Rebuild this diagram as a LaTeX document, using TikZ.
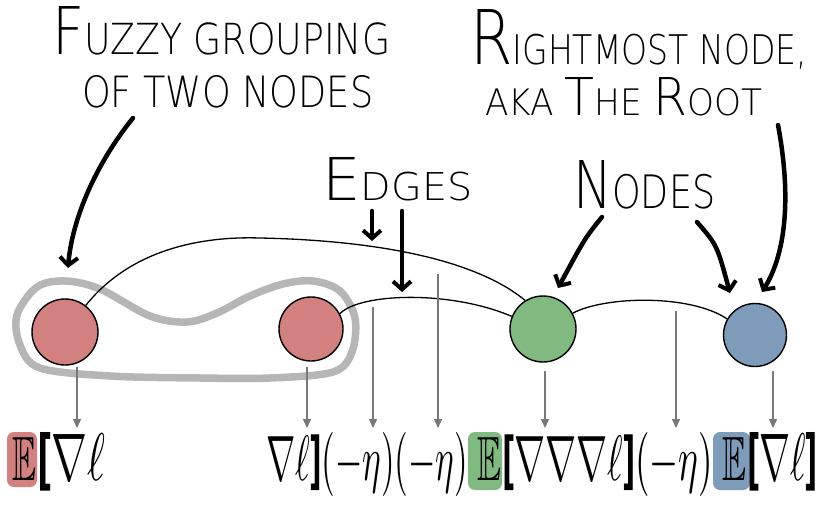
\documentclass[tikz,border=0pt]{standalone}
\usepackage{graphicx}
\usepackage{amssymb}
\usepackage{fontspec}
\setmainfont{Open Sans}
\newfontfamily\handfont{DejaVu Sans ExtraLight}
\usetikzlibrary{arrows.meta}
\definecolor{redc}{RGB}{210,128,128}
\definecolor{greenc}{RGB}{128,186,128}
\definecolor{bluec}{RGB}{126,156,186}
\definecolor{grayarr}{RGB}{120,120,120}
\definecolor{groupc}{RGB}{182,182,182}
\newcommand\bigL[2][20]{{\fontsize{#1}{#1}\selectfont #2}}
\newcommand\smL[2][13]{{\fontsize{#1}{#1}\selectfont #2}}
\newcommand\bbr[1]{\textbf{#1}}
\tikzset{
  gnode/.style={circle, draw=black, line width=1.4pt, minimum size=#1, inner sep=0pt},
  edgeline/.style={line width=1.3pt, black},
  down/.style={grayarr, line width=1.4pt, -{Triangle[length=9pt,width=8pt]}},
  callout/.style={line width=4.5pt, line cap=round, line join=round,
     -{Straight Barb[length=8pt,width=18pt,line width=4pt]}},
  lbl/.style={inner sep=0pt, anchor=base west},
  hand/.style={lbl, font=\handfont},
  blob/.style={rounded corners=7pt, inner sep=0pt},
  grp/.style={groupc, line width=7.5pt}
}
\begin{document}
\begin{tikzpicture}[x=1pt,y=-1pt]
\useasboundingbox (0,0) rectangle (827,514);

% labels
\node[hand] (tfuzzy) at (52,54) {\resizebox{338pt}{48pt}{\handfont\bigL{F}\smL{UZZY GROUPING}}};
\node[hand] (tfuzzy2) at (82,107) {\resizebox{291pt}{32pt}{\handfont\smL{OF TWO NODES}}};
\node[hand] (troot) at (470,64) {\resizebox{337pt}{55pt}{\handfont\bigL[24]{R}\smL{IGHTMOST NODE,}}};
\node[hand] (troot2) at (485,115) {\resizebox{277pt}{38pt}{\handfont\smL[14]{AKA }\bigL{T}\smL[14]{HE }\bigL{R}\smL[14]{OOT}}};
\node[hand] (tedges) at (322,200) {\resizebox{150pt}{43pt}{\handfont\bigL{E}\smL{DGES}}};
\node[hand] (tnodes) at (573,208) {\resizebox{142pt}{48pt}{\handfont\bigL{N}\smL[14]{ODES}}};

% grouping
\draw[grp] plot[smooth cycle, tension=0.55] coordinates {
 (37,287) (65,281) (100,289) (150,316) (187,322) (217,313) (250,296) (283,284)
 (313,281) (340,291) (355,318) (352,352) (333,372) (270,378) (200,378) (110,376)
 (40,368) (20,345) (17,315)};

% nodes
\node[gnode=66pt, fill=redc] (r1) at (65,332) {};
\node[gnode=64pt, fill=redc] (r2) at (311,329) {};
\node[gnode=66pt, fill=greenc] (g) at (543,329) {};
\node[gnode=63pt, fill=bluec] (b) at (755,335) {};

% edges
\draw[edgeline] (r1.52) .. controls (130,250) and (200,236) .. (260,238)
   .. controls (360,240) and (470,255) .. (g.122);
\draw[edgeline] (r2.28) .. controls (360,293) and (450,290) .. (g.158);
\draw[edgeline] (g.28) .. controls (605,296) and (690,294) .. (b.150);

% gray arrows
\coordinate (s1) at (77,367);  \coordinate (e1) at (77,428);
\coordinate (s2) at (307,367); \coordinate (e2) at (307,428);
\coordinate (s3) at (373,307); \coordinate (e3) at (373,428);
\coordinate (s4) at (438,274); \coordinate (e4) at (438,428);
\coordinate (s5) at (545,371); \coordinate (e5) at (545,428);
\coordinate (s6) at (676,311); \coordinate (e6) at (676,428);
\coordinate (s7) at (773,371); \coordinate (e7) at (773,428);
\foreach \i in {1,...,7} {\draw[down] (s\i) -- (e\i);}

% callout arrows
\coordinate (fz0) at (133,118); \coordinate (fz1) at (68,268);
\draw[callout] (fz0) .. controls (95,165) and (72,220) .. (fz1);
\coordinate (ed0) at (372,211); \coordinate (ed1) at (372,241);
\draw[callout] (ed0) -- (ed1);
\coordinate (ee0) at (402,211); \coordinate (ee1) at (402,292);
\draw[callout] (ee0) -- (ee1);
\coordinate (nd0) at (602,217); \coordinate (nd1) at (558,288);
\draw[callout] (nd0) .. controls (585,238) .. (nd1);
\coordinate (nb0) at (697,222); \coordinate (nb1) at (730,293);
\draw[callout] (nb0) .. controls (717,245) .. (nb1);
\coordinate (rt0) at (778,125); \coordinate (rt1) at (762,292);
\draw[callout] (rt0) .. controls (792,200) and (785,255) .. (rt1);

% formula
\node[blob, fill=redc, minimum width=30pt, minimum height=55pt] (blobA) at (22,459.5) {};
\node[blob, fill=greenc, minimum width=34pt, minimum height=58pt] (blobB) at (485,461) {};
\node[blob, fill=bluec, minimum width=37pt, minimum height=58pt] (blobC) at (731.5,461) {};
\node[lbl] (E1) at (12,480) {\resizebox{24pt}{43pt}{$\mathbb{E}$}};
\node[lbl] (f1) at (37,480) {\resizebox{68pt}{48pt}{\bbr{[}$\nabla\ell$}};
\node[lbl] (f2) at (266,480) {\resizebox{202pt}{48pt}{$\nabla\ell$\bbr{]}$(-\eta)(-\eta)$}};
\node[lbl] (E2) at (477,480) {\resizebox{24pt}{43pt}{$\mathbb{E}$}};
\node[lbl] (f3) at (502,480) {\resizebox{211pt}{48pt}{\bbr{[}$\nabla\nabla\nabla\ell$\bbr{]}$(-\eta)$}};
\node[lbl] (E3) at (722,480) {\resizebox{24pt}{43pt}{$\mathbb{E}$}};
\node[lbl] (f4) at (747,480) {\resizebox{71pt}{48pt}{\bbr{[}$\nabla\ell$\bbr{]}}};
\end{tikzpicture}
\end{document}
